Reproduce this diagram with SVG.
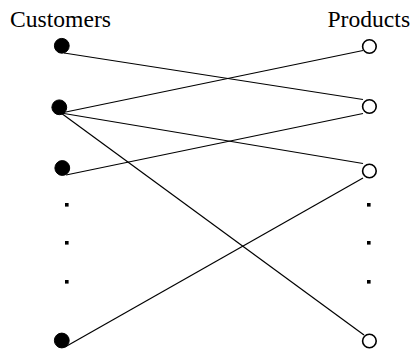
<svg xmlns="http://www.w3.org/2000/svg" width="411" height="349" viewBox="0 0 411 349">
<style>
.lbl{font-family:"Liberation Serif","Times New Roman",serif;font-size:23.6px;fill:#000}
.cust{fill:#000;stroke:#000;stroke-width:1}
.prod{fill:#fff;stroke:#000;stroke-width:1.6}
.edge{stroke:#000;stroke-width:1.2;fill:none}
.ell{fill:#000}
</style>
<rect width="411" height="349" fill="#fff"/>
<g id="connectors">
<line class="edge" x1="64" y1="53" x2="363" y2="99.5"/>
<line class="edge" x1="61" y1="113" x2="363" y2="50.5"/>
<line class="edge" x1="61" y1="113" x2="363" y2="163.5"/>
<line class="edge" x1="61" y1="113" x2="364" y2="335"/>
<line class="edge" x1="66" y1="175" x2="363" y2="113.5"/>
<line class="edge" x1="65" y1="347" x2="363" y2="178"/>
</g>
<g id="label-customers"><text class="lbl" x="10" y="26.5">Customers</text></g>
<g id="label-products"><text class="lbl" x="327.5" y="26.5">Products</text></g>
<g id="customer-1"><circle class="cust" cx="61.8" cy="45.8" r="7.4"/></g>
<g id="customer-2"><circle class="cust" cx="59.3" cy="107.3" r="7.4"/></g>
<g id="customer-3"><circle class="cust" cx="62.3" cy="168" r="7.4"/></g>
<g id="customer-4"><circle class="cust" cx="61.8" cy="340.5" r="7.4"/></g>
<g id="product-1"><circle class="prod" cx="369.4" cy="46.5" r="6.8"/></g>
<g id="product-2"><circle class="prod" cx="369.4" cy="106.5" r="6.8"/></g>
<g id="product-3"><circle class="prod" cx="369.4" cy="171" r="6.8"/></g>
<g id="product-4"><circle class="prod" cx="369.4" cy="341" r="6.8"/></g>
<g id="ellipsis-customers">
<rect class="ell" x="65" y="203" width="3.6" height="3.6"/>
<rect class="ell" x="65" y="241" width="3.6" height="3.6"/>
<rect class="ell" x="65" y="280" width="3.6" height="3.6"/>
</g>
<g id="ellipsis-products">
<rect class="ell" x="367" y="203" width="3.6" height="3.6"/>
<rect class="ell" x="367" y="241" width="3.6" height="3.6"/>
<rect class="ell" x="367" y="280" width="3.6" height="3.6"/>
</g>
</svg>
